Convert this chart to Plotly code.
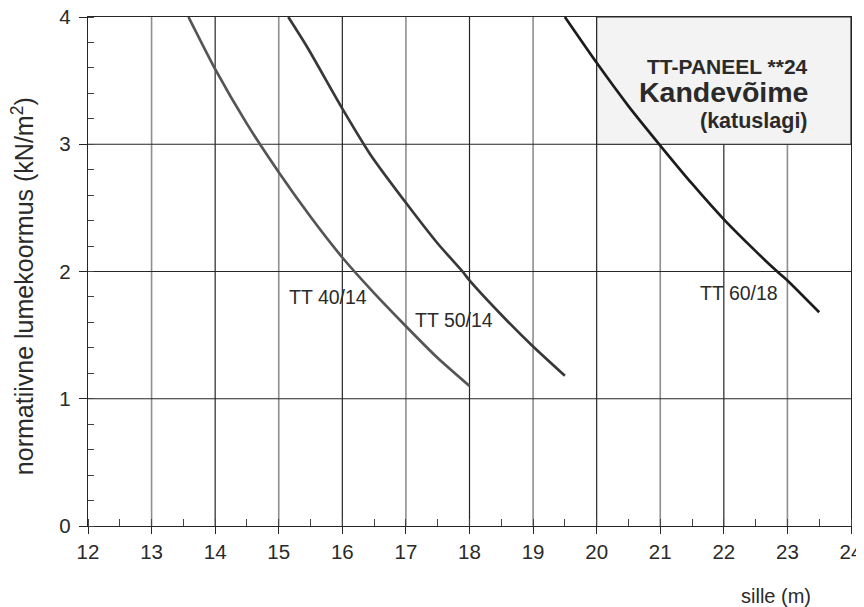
import numpy as np
import plotly.graph_objects as go

# ---- data ----
tt40_x = [13.58, 14.0, 14.5, 15.0, 15.5, 16.0, 16.5, 17.0, 17.5, 18.0]
tt40_y = [4.00, 3.59, 3.16, 2.78, 2.43, 2.11, 1.83, 1.57, 1.32, 1.10]

tt50_x = [15.15, 15.44, 16.0, 16.44, 17.0, 17.5, 17.89, 18.0, 18.5, 19.0, 19.5]
tt50_y = [4.00, 3.77, 3.28, 2.92, 2.54, 2.22, 2.00, 1.93, 1.66, 1.41, 1.18]

tt60_x = [19.5, 20.0, 20.5, 21.0, 21.5, 22.0, 22.5, 22.84, 23.0, 23.5]
tt60_y = [4.00, 3.64, 3.30, 2.99, 2.69, 2.41, 2.16, 2.00, 1.93, 1.68]

series_names = ["TT 40/14", "TT 50/14", "TT 60/18"]
x_ticks = list(range(12, 25))
y_ticks = [0, 1, 2, 3, 4]

FONT = "Liberation Sans, Arial, sans-serif"
DARK = "#262626"
GREY = "#8e8e8e"
TXT = "#2a2a2a"

fig = go.Figure()

colors = ["#555555", "#383838", "#1c1c1c"]
for xs, ys, name, c in zip([tt40_x, tt50_x, tt60_x], [tt40_y, tt50_y, tt60_y], series_names, colors):
    fig.add_trace(go.Scatter(x=xs, y=ys, mode="lines", name=name,
                             line=dict(color=c, width=2.7, shape="spline", smoothing=0.6),
                             showlegend=False, hoverinfo="skip"))

shapes = []
for xv in x_ticks[1:-1]:
    col = GREY if xv % 2 == 1 else DARK
    w = 1.6 if xv % 2 == 1 else 1.2
    shapes.append(dict(type="line", xref="x", yref="y", x0=xv, x1=xv, y0=0, y1=4,
                       line=dict(color=col, width=w), layer="below"))
for yv in y_ticks[1:-1]:
    shapes.append(dict(type="line", xref="x", yref="y", x0=12, x1=24, y0=yv, y1=yv,
                       line=dict(color=DARK, width=1.2), layer="below"))
shapes.append(dict(type="rect", xref="x", yref="y", x0=20, x1=24, y0=3, y1=4,
                   fillcolor="#f3f3f3", line=dict(color=DARK, width=1.2), layer="below"))

annotations = [
    dict(x=15.13, y=1.80, text="TT 40/14", xanchor="left", yanchor="middle"),
    dict(x=17.11, y=1.62, text="TT 50/14", xanchor="left", yanchor="middle"),
    dict(x=21.59, y=1.835, text="TT 60/18", xanchor="left", yanchor="middle"),
]
for a in annotations:
    a.update(xref="x", yref="y", showarrow=False, font=dict(family=FONT, size=19.5, color=TXT))

box_texts = [
    dict(y=3.614, text="<b>TT-PANEEL **24</b>", size=21),
    dict(y=3.41, text="<b>Kandevõime</b>", size=28.5),
    dict(y=3.18, text="<b>(katuslagi)</b>", size=21.5),
]
for b in box_texts:
    annotations.append(dict(xref="x", yref="y", x=23.35, y=b["y"], text=b["text"], showarrow=False,
                            xanchor="right", yanchor="middle",
                            font=dict(family=FONT, size=b["size"], color=TXT)))

annotations.append(dict(xref="paper", yref="paper", x=0.902, y=-0.1375, text="sille (m)",
                        showarrow=False, xanchor="center", yanchor="middle",
                        font=dict(family=FONT, size=20, color=TXT)))
annotations.append(dict(xref="paper", yref="paper", x=-0.086, y=0.472,
                        text="normatiivne lumekoormus (kN/m<sup>2</sup>)", textangle=-90,
                        showarrow=False, xanchor="center", yanchor="middle",
                        font=dict(family=FONT, size=25, color=TXT)))

# the page body adds an 8px offset, so the figure is 8px smaller and margins shifted
fig.update_layout(
    width=856, height=599,
    margin=dict(l=80, r=13, t=9, b=81, autoexpand=False),
    paper_bgcolor="white", plot_bgcolor="white",
    shapes=shapes, annotations=annotations,
    font=dict(family=FONT, size=20, color=TXT),
    xaxis=dict(range=[12, 24], tickmode="array", tickvals=x_ticks, ticktext=[str(v) for v in x_ticks],
               showgrid=False, zeroline=False, showline=True, linecolor=DARK, linewidth=1.3,
               mirror=True, ticklabeloverflow="allow",
               automargin=False, ticks="outside", ticklen=7, tickcolor=DARK, tickwidth=1.3,
               minor=dict(dtick=0.5, ticks="inside", ticklen=7, tickcolor="#444", tickwidth=1.2, showgrid=False),
               tickfont=dict(family=FONT, size=20.5, color=TXT)),
    yaxis=dict(range=[0, 4], tickmode="array", tickvals=y_ticks, ticktext=[str(v) for v in y_ticks],
               showgrid=False, zeroline=False, showline=True, linecolor=DARK, linewidth=1.3,
               mirror=True, ticklabeloverflow="allow", ticklabelstandoff=4,
               automargin=False, ticks="outside", ticklen=8, tickcolor=DARK, tickwidth=1.3,
               minor=dict(dtick=0.2, ticks="inside", ticklen=6, tickcolor="#444", tickwidth=1.2, showgrid=False),
               tickfont=dict(family=FONT, size=20.5, color=TXT)),
)

fig.write_html("out.html")
